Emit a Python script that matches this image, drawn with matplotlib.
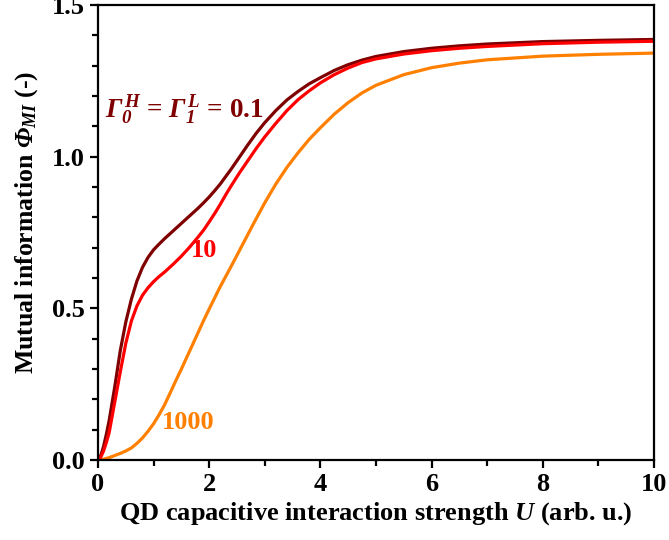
import numpy as np
import matplotlib
matplotlib.use("Agg")
import matplotlib.pyplot as plt
from matplotlib.ticker import MultipleLocator

plt.rcParams['font.family'] = ['Liberation Serif', 'DejaVu Serif']
plt.rcParams['font.weight'] = 'bold'
# all math in this figure is bold italic (greek capitals included)
plt.rcParams['mathtext.fontset'] = 'custom'
plt.rcParams['mathtext.rm'] = 'Liberation Serif:italic:bold'
plt.rcParams['mathtext.it'] = 'Liberation Serif:italic:bold'
plt.rcParams['mathtext.bf'] = 'Liberation Serif:italic:bold'

# Gamma = 0.1
u_01 = [0, 0.05, 0.1, 0.15, 0.2, 0.3, 0.4, 0.5, 0.6, 0.7, 0.8, 0.9, 1.0, 1.1, 1.2, 1.35,
        1.5, 1.65, 1.8, 1.9, 2.0, 2.1, 2.2, 2.3, 2.4, 2.55, 2.7, 2.85, 3.0, 3.2, 3.4, 3.6,
        3.8, 4.0, 4.25, 4.5, 4.75, 5.0, 5.5, 6.0, 6.5, 7.0, 8.0, 9.0, 10.0]
phi_01 = [0, 0.015, 0.045, 0.085, 0.13, 0.24, 0.36, 0.455, 0.53, 0.59, 0.635, 0.668, 0.693,
          0.712, 0.73, 0.755, 0.78, 0.805, 0.83, 0.848, 0.867, 0.888, 0.91, 0.935, 0.96,
          1.0, 1.04, 1.078, 1.112, 1.152, 1.187, 1.215, 1.24, 1.26, 1.284, 1.303, 1.318,
          1.33, 1.346, 1.357, 1.365, 1.371, 1.379, 1.383, 1.386]

# Gamma = 10
u_10 = u_01
phi_10 = [0, 0.01, 0.03, 0.058, 0.09, 0.19, 0.29, 0.385, 0.458, 0.508, 0.543, 0.568, 0.588,
          0.605, 0.62, 0.645, 0.672, 0.702, 0.735, 0.758, 0.785, 0.813, 0.843, 0.875, 0.905,
          0.948, 0.988, 1.028, 1.065, 1.11, 1.152, 1.188, 1.217, 1.243, 1.27, 1.292, 1.31,
          1.322, 1.338, 1.349, 1.357, 1.363, 1.372, 1.377, 1.38]

# Gamma = 1000
u_1000 = [0, 0.1, 0.2, 0.3, 0.4, 0.5, 0.6, 0.7, 0.8, 0.9, 1.0, 1.1, 1.2, 1.3, 1.4, 1.5,
          1.6, 1.7, 1.8, 1.9, 2.0, 2.2, 2.4, 2.6, 2.8, 3.0, 3.2, 3.4, 3.6, 3.8, 4.0, 4.25,
          4.5, 4.75, 5.0, 5.5, 6.0, 6.5, 7.0, 8.0, 9.0, 10.0]
phi_1000 = [0, 0.003, 0.008, 0.015, 0.022, 0.03, 0.04, 0.055, 0.073, 0.095, 0.12, 0.15,
            0.183, 0.222, 0.262, 0.30, 0.34, 0.38, 0.42, 0.46, 0.498, 0.572, 0.64, 0.71,
            0.78, 0.848, 0.91, 0.965, 1.013, 1.057, 1.095, 1.14, 1.178, 1.21, 1.235, 1.27,
            1.293, 1.308, 1.319, 1.331, 1.337, 1.341]

c_01 = '#7F0000'
c_10 = '#FF0000'
c_1000 = '#FF8000'

fig = plt.figure(figsize=(6.69, 5.40), dpi=100)
ax = fig.add_axes([0.1465, 0.148, 0.831, 0.843])

ax.plot(u_1000, phi_1000, color=c_1000, lw=2.3)
ax.plot(u_01, phi_01, color=c_01, lw=2.3)
ax.plot(u_10, phi_10, color=c_10, lw=2.3)

ax.set_xlim(0, 10)
ax.set_ylim(0, 1.5)
ax.xaxis.set_major_locator(MultipleLocator(2))
ax.xaxis.set_minor_locator(MultipleLocator(1))
ax.yaxis.set_major_locator(MultipleLocator(0.5))
ax.yaxis.set_minor_locator(MultipleLocator(0.1))
ax.yaxis.set_major_formatter(plt.FuncFormatter(lambda v, p: f"{v:.1f}"))

for s in ax.spines.values():
    s.set_linewidth(1.6)
ax.tick_params(which='both', direction='out', top=False, right=False, width=1.6,
               labelsize=19)
ax.tick_params(which='major', length=6)
ax.tick_params(which='minor', length=4)

ax.set_xlabel(r'QD capacitive interaction strength $U$ (arb. u.)', fontsize=19,
              fontweight='bold', labelpad=3)
ax.set_ylabel(r'Mutual information $\Phi_{MI}$ (-)', fontsize=18.5, fontweight='bold')
ax.yaxis.set_label_coords(-0.104, 0.522)

ax.text(0.13, 1.154, r'$\Gamma_0^{\,H}$ = $\Gamma_1^{\,L}$ = 0.1',
        color=c_01, fontsize=19.5, fontweight='bold', ha='left', va='center')
ax.text(1.91, 0.69, '10', color=c_10, fontsize=19, fontweight='bold', ha='center', va='center')
ax.text(1.62, 0.125, '1000', color=c_1000, fontsize=19, fontweight='bold', ha='center', va='center')

fig.savefig('out.png', dpi=100)
